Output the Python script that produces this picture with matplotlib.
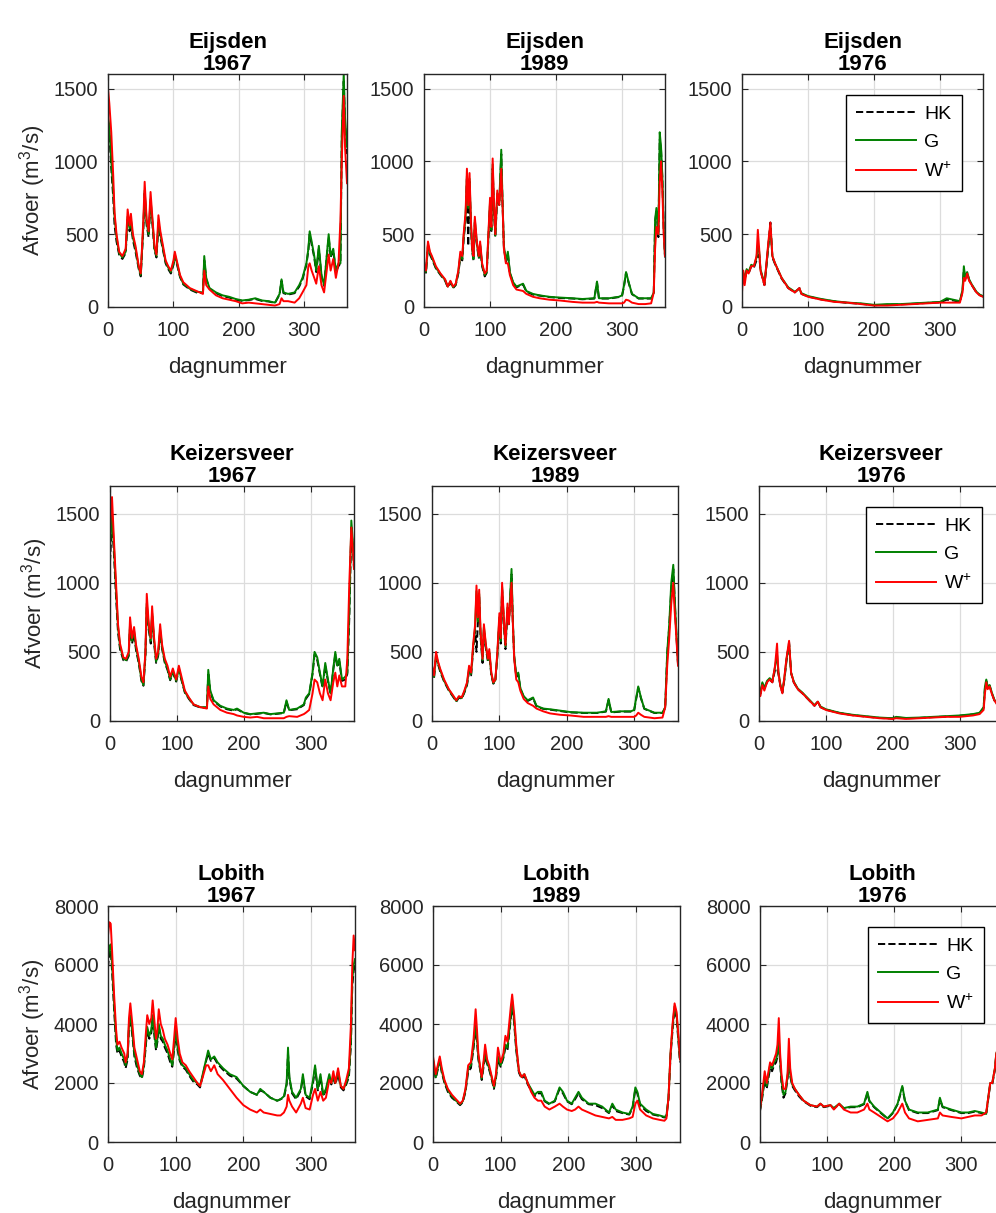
import matplotlib
matplotlib.use('Agg')
import matplotlib.pyplot as plt

plt.rcParams['font.family'] = ['Liberation Sans', 'DejaVu Sans']
plt.rcParams['mathtext.default'] = 'regular'

# ---- Eijsden 1967 ----
eij67_dag = [0, 2, 5, 8, 10, 13, 17, 22, 27, 30, 33, 35, 38, 42, 47, 50, 54, 56, 59, 62, 65, 68, 71, 74, 77,
             80, 84, 88, 92, 96, 100, 102, 106, 110, 115, 125, 135, 145, 147, 150, 155, 165, 175, 185, 195,
             205, 215, 225, 235, 245, 255, 262, 265, 268, 275, 285, 292, 297, 303, 306, 308, 311, 315, 318,
             322, 326, 330, 334, 337, 340, 344, 348, 352, 355, 357, 360, 362, 365]
eij67_hk = [1250, 1200, 950, 750, 560, 450, 360, 330, 370, 600, 520, 580, 460, 380, 260, 210, 540, 780, 560, 480,
            720, 560, 390, 340, 560, 480, 390, 300, 260, 230, 290, 350, 280, 205, 155, 120, 100, 95, 320, 190,
            125, 95, 75, 65, 50, 42, 48, 55, 42, 38, 28, 85, 180, 95, 85, 95, 140, 190, 290, 390, 500, 430, 340,
            240, 400, 210, 145, 340, 480, 340, 390, 240, 280, 300, 1150, 1550, 1250, 1050]
eij67_g = [1300, 1250, 1000, 800, 620, 480, 370, 340, 380, 620, 540, 600, 480, 400, 270, 220, 560, 800, 580, 500,
           740, 580, 400, 350, 580, 500, 400, 310, 270, 240, 300, 360, 290, 210, 160, 125, 105, 100, 350, 200,
           130, 100, 80, 70, 55, 45, 50, 60, 45, 40, 30, 90, 190, 100, 90, 100, 150, 200, 300, 400, 520, 450, 350,
           250, 420, 220, 150, 350, 500, 350, 400, 250, 300, 300, 1200, 1600, 1300, 1100]
eij67_w = [1500, 1400, 1200, 900, 650, 500, 380, 350, 400, 670, 560, 640, 500, 420, 280, 230, 600, 860, 600, 520,
           790, 600, 420, 360, 630, 520, 420, 320, 280, 250, 320, 380, 300, 220, 170, 130, 110, 90, 250, 150,
           120, 80, 60, 50, 40, 25, 30, 25, 20, 15, 10, 20, 60, 40, 40, 30, 60, 100, 150, 280, 300, 250, 200,
           160, 280, 150, 100, 250, 360, 250, 330, 200, 300, 600, 1000, 1450, 1100, 850]

# ---- Eijsden 1989 ----
eij89_dag = [0, 3, 6, 9, 12, 18, 25, 32, 36, 40, 44, 48, 52, 55, 58, 60, 63, 65, 67, 69, 71, 73, 75, 77, 80,
             83, 85, 88, 92, 95, 97, 100, 102, 104, 106, 108, 111, 114, 117, 119, 121, 124, 127, 130, 135,
             140, 150, 155, 165, 175, 190, 205, 225, 240, 258, 262, 265, 280, 295, 300, 303, 306, 310, 315,
             325, 335, 344, 348, 350, 352, 355, 357, 359, 361, 363, 365]
eij89_hk = [280, 235, 420, 360, 330, 265, 220, 180, 135, 170, 130, 150, 230, 340, 320, 460, 600, 880, 420, 860,
            560, 380, 320, 580, 430, 330, 420, 280, 210, 235, 420, 700, 510, 950, 660, 480, 760, 700, 1050, 700,
            410, 310, 370, 235, 165, 135, 155, 105, 85, 78, 68, 62, 58, 53, 58, 170, 58, 58, 68, 78, 145, 235,
            165, 88, 58, 58, 58, 95, 580, 660, 480, 1150, 1080, 880, 540, 340]
eij89_g = [290, 240, 430, 370, 340, 270, 225, 185, 140, 175, 135, 155, 240, 360, 330, 480, 620, 900, 680, 880,
           580, 390, 330, 600, 440, 340, 430, 290, 220, 240, 430, 720, 530, 980, 680, 490, 780, 720, 1080, 720,
           420, 320, 380, 240, 170, 140, 160, 110, 90, 80, 70, 65, 60, 55, 60, 175, 60, 60, 70, 80, 150, 240,
           170, 90, 60, 60, 60, 100, 600, 680, 500, 1200, 1100, 900, 550, 350]
eij89_w = [300, 250, 450, 380, 350, 280, 230, 190, 140, 180, 140, 160, 250, 380, 350, 500, 650, 950, 700, 920,
           600, 400, 350, 620, 450, 350, 450, 300, 230, 250, 450, 750, 550, 1020, 700, 500, 800, 700, 950, 700,
           400, 300, 300, 220, 150, 120, 110, 90, 70, 60, 50, 45, 35, 30, 30, 35, 30, 25, 25, 25, 30, 50,
           45, 30, 20, 20, 25, 100, 400, 550, 500, 850, 1000, 800, 500, 350]

# ---- Eijsden 1976 ----
eij76_dag = [0, 2, 4, 7, 10, 14, 18, 22, 24, 26, 28, 31, 34, 37, 40, 43, 46, 50, 55, 60, 70, 80, 87, 90, 100,
             120, 140, 160, 180, 200, 220, 240, 260, 280, 300, 310, 320, 330, 334, 336, 338, 341, 344, 348,
             355, 360, 365]
eij76_hk = [190, 230, 170, 250, 230, 280, 270, 320, 350, 360, 250, 200, 150, 280, 420, 580, 340, 295, 245, 195,
            130, 100, 130, 90, 72, 52, 38, 28, 22, 12, 15, 18, 22, 28, 32, 50, 45, 35, 110, 260, 190, 235, 185,
            150, 100, 82, 72]
eij76_g = [200, 240, 180, 260, 240, 290, 280, 340, 420, 380, 260, 210, 160, 290, 430, 560, 350, 300, 250, 200,
           135, 105, 125, 95, 75, 55, 40, 30, 25, 15, 20, 20, 25, 30, 35, 60, 50, 40, 120, 280, 200, 240, 190,
           155, 105, 85, 75]
eij76_w = [100, 250, 150, 250, 230, 280, 280, 350, 530, 400, 250, 200, 150, 300, 450, 580, 350, 300, 250, 200,
           130, 100, 130, 90, 70, 50, 35, 30, 20, 10, 10, 15, 20, 25, 30, 30, 30, 30, 100, 200, 180, 230, 180,
           150, 100, 80, 70]

# ---- Keizersveer 1967 ----
kzv67_dag = [0, 3, 6, 9, 12, 15, 20, 24, 28, 30, 33, 36, 39, 43, 47, 50, 53, 55, 58, 61, 63, 66, 69, 72, 75,
             78, 82, 86, 90, 94, 99, 103, 107, 112, 118, 125, 135, 145, 147, 150, 155, 165, 175, 185, 190,
             200, 210, 220, 230, 240, 250, 260, 264, 268, 280, 290, 293, 298, 303, 306, 310, 314, 318, 322,
             326, 330, 334, 337, 340, 343, 347, 352, 355, 358, 361, 364, 365]
kzv67_hk = [1150, 1450, 1200, 900, 640, 520, 440, 430, 470, 680, 560, 630, 510, 420, 290, 255, 470, 830, 660, 560,
            760, 560, 420, 470, 640, 520, 420, 370, 295, 350, 285, 370, 295, 205, 160, 115, 98, 95, 350, 210,
            145, 105, 85, 75, 85, 58, 48, 52, 58, 48, 52, 58, 140, 78, 85, 115, 160, 195, 340, 480, 440, 340,
            240, 400, 290, 195, 370, 480, 390, 430, 290, 300, 340, 750, 1400, 1200, 1100]
kzv67_g = [1250, 1500, 1250, 950, 680, 540, 450, 440, 480, 700, 580, 650, 530, 430, 300, 260, 480, 850, 680, 580,
           780, 580, 430, 480, 660, 530, 430, 380, 300, 360, 290, 380, 300, 210, 165, 120, 100, 100, 370, 220,
           150, 110, 90, 80, 90, 60, 50, 55, 60, 50, 55, 60, 150, 80, 90, 120, 170, 200, 350, 500, 460, 350,
           250, 420, 300, 200, 380, 500, 400, 450, 300, 320, 350, 800, 1450, 1250, 1150]
kzv67_w = [1400, 1620, 1300, 1000, 700, 560, 460, 450, 500, 750, 600, 680, 550, 450, 320, 280, 500, 920, 700, 600,
           830, 600, 450, 500, 700, 550, 450, 400, 320, 380, 300, 400, 320, 220, 170, 120, 100, 90, 250, 160,
           120, 80, 60, 50, 40, 30, 25, 30, 20, 20, 20, 20, 30, 35, 30, 50, 60, 80, 200, 300, 280, 200,
           150, 300, 200, 150, 280, 350, 250, 330, 250, 250, 450, 1000, 1400, 1200, 1100]

# ---- Keizersveer 1989 ----
kzv89_dag = [0, 3, 6, 9, 12, 18, 25, 32, 36, 40, 44, 48, 52, 55, 58, 61, 64, 66, 68, 70, 72, 75, 77, 80, 83,
             85, 88, 91, 94, 97, 100, 102, 104, 107, 109, 112, 114, 118, 120, 122, 125, 128, 131, 136, 142,
             150, 155, 165, 175, 190, 205, 225, 245, 258, 262, 266, 280, 295, 300, 303, 306, 310, 315, 330,
             342, 346, 349, 352, 355, 358, 360, 362, 365]
kzv89_hk = [380, 310, 470, 410, 360, 285, 220, 170, 140, 170, 160, 205, 260, 360, 330, 510, 660, 500, 700, 900,
            610, 420, 660, 520, 430, 490, 330, 270, 290, 470, 730, 560, 950, 670, 520, 800, 700, 1060, 700, 460,
            320, 340, 235, 175, 145, 165, 105, 88, 82, 72, 62, 58, 58, 68, 150, 62, 68, 68, 78, 160, 240, 165,
            88, 58, 58, 95, 480, 680, 950, 1100, 880, 680, 410]
kzv89_g = [390, 320, 480, 420, 370, 290, 225, 175, 145, 175, 165, 210, 270, 380, 340, 530, 680, 940, 720, 920,
           630, 440, 680, 540, 440, 500, 340, 275, 295, 480, 750, 580, 970, 690, 540, 820, 720, 1100, 720, 470,
           330, 350, 240, 180, 150, 170, 110, 90, 85, 75, 65, 60, 60, 70, 160, 65, 70, 70, 80, 170, 250, 170,
           90, 60, 60, 100, 500, 700, 1000, 1130, 900, 700, 420]
kzv89_w = [400, 330, 500, 430, 380, 300, 230, 180, 150, 180, 170, 220, 280, 400, 350, 550, 700, 980, 750, 950,
           650, 450, 700, 550, 450, 520, 350, 280, 300, 500, 780, 600, 1000, 700, 550, 850, 700, 1000, 700, 450,
           300, 280, 220, 160, 130, 110, 90, 70, 55, 45, 40, 30, 30, 30, 35, 30, 30, 30, 30, 40, 60, 45,
           30, 20, 25, 100, 400, 600, 850, 1000, 800, 650, 400]

# ---- Keizersveer 1976 ----
kzv76_dag = [0, 2, 5, 8, 12, 16, 20, 24, 27, 29, 32, 35, 38, 41, 45, 48, 52, 58, 65, 75, 83, 88, 92, 100, 120,
             140, 160, 180, 200, 205, 220, 240, 260, 280, 300, 310, 320, 330, 336, 338, 340, 342, 345, 348,
             352, 356, 360, 365]
kzv76_hk = [230, 195, 270, 235, 280, 300, 280, 370, 380, 340, 255, 205, 300, 430, 570, 345, 280, 230, 200, 150,
            110, 140, 100, 82, 58, 42, 32, 22, 18, 25, 20, 22, 28, 32, 38, 42, 48, 55, 95, 240, 290, 245, 255,
            205, 150, 120, 112, 102]
kzv76_g = [240, 200, 280, 240, 290, 310, 290, 390, 480, 360, 260, 210, 310, 440, 560, 350, 285, 235, 205, 155,
           115, 140, 105, 85, 60, 45, 35, 25, 20, 30, 22, 25, 30, 35, 40, 45, 50, 60, 100, 250, 300, 250, 260,
           210, 155, 125, 115, 105]
kzv76_w = [200, 180, 260, 220, 280, 300, 280, 400, 560, 350, 250, 200, 320, 450, 580, 350, 280, 230, 200, 150,
           110, 140, 100, 80, 55, 40, 30, 20, 15, 20, 15, 20, 25, 30, 30, 35, 40, 50, 80, 200, 280, 230, 250,
           200, 150, 120, 110, 100]

# ---- Lobith 1967 ----
lob67_dag = [0, 2, 4, 6, 9, 12, 14, 17, 20, 24, 26, 29, 31, 33, 36, 39, 43, 47, 50, 53, 56, 58, 61, 64, 66,
             69, 71, 73, 75, 78, 81, 84, 88, 92, 95, 98, 100, 103, 106, 110, 115, 120, 126, 132, 136, 140,
             145, 148, 152, 157, 162, 170, 180, 190, 200, 210, 220, 225, 230, 240, 250, 255, 260, 264, 266,
             268, 272, 278, 285, 288, 292, 298, 303, 306, 310, 314, 318, 322, 327, 330, 333, 336, 340, 344,
             348, 352, 356, 359, 361, 363, 365]
lob67_hk = [5900, 6400, 6500, 5800, 4500, 3300, 3000, 3100, 2900, 2700, 2500, 2800, 3900, 4200, 3600, 2900, 2500,
            2250, 2150, 2500, 3300, 3800, 3500, 3700, 4200, 3500, 3100, 3400, 3900, 3500, 3400, 3200, 3000, 2700,
            2550, 3200, 3700, 3100, 2750, 2550, 2450, 2250, 2050, 1950, 1850, 2250, 2750, 3000, 2750, 2850, 2650,
            2450, 2250, 2150, 1900, 1700, 1600, 1750, 1700, 1500, 1400, 1450, 1500, 1950, 3000, 2150, 1650, 1450,
            1750, 2200, 1550, 1450, 2000, 2500, 1750, 2200, 1550, 1750, 2200, 1950, 2150, 1950, 2300, 1850, 1750,
            1950, 2200, 3300, 5300, 5800, 6000]
lob67_g = [6200, 6600, 6700, 6000, 4700, 3500, 3100, 3200, 3000, 2800, 2600, 2900, 4000, 4300, 3700, 3000, 2600,
           2300, 2200, 2600, 3400, 3900, 3600, 3800, 4300, 3600, 3200, 3500, 4000, 3600, 3500, 3300, 3100, 2800,
           2600, 3300, 3800, 3200, 2800, 2600, 2500, 2300, 2100, 2000, 1900, 2300, 2800, 3100, 2800, 2900, 2700,
           2500, 2300, 2200, 1900, 1700, 1600, 1800, 1700, 1500, 1400, 1450, 1550, 2000, 3200, 2200, 1700, 1500,
           1800, 2300, 1600, 1500, 2100, 2600, 1800, 2300, 1600, 1800, 2300, 2000, 2200, 2000, 2400, 1900, 1800,
           2000, 2300, 3500, 5500, 6000, 6200]
lob67_w = [7000, 7450, 7400, 6500, 5000, 3800, 3300, 3400, 3200, 3000, 2700, 3000, 4200, 4700, 4000, 3200, 2800,
           2400, 2300, 2700, 3700, 4300, 4000, 4200, 4800, 4000, 3500, 3800, 4500, 4000, 3800, 3500, 3300, 3000,
           2800, 3600, 4200, 3500, 3000, 2700, 2600, 2400, 2200, 2000, 1900, 2200, 2600, 2600, 2400, 2600, 2300,
           2100, 1800, 1500, 1250, 1100, 1000, 1100, 1000, 950, 900, 900, 1000, 1200, 1600, 1400, 1200, 1000,
           1300, 1500, 1150, 1100, 1600, 1800, 1400, 1700, 1400, 1500, 2100, 2000, 2400, 2000, 2500, 1900, 1800,
           2100, 2500, 4000, 6000, 7000, 6500]

# ---- Lobith 1989 ----
lob89_dag = [0, 2, 4, 7, 10, 13, 17, 22, 28, 34, 40, 44, 48, 52, 56, 60, 63, 65, 67, 70, 72, 75, 77, 80, 83,
             86, 90, 93, 96, 100, 104, 107, 110, 115, 117, 120, 123, 127, 131, 135, 140, 145, 150, 155, 160,
             165, 172, 180, 187, 192, 198, 205, 210, 215, 220, 230, 240, 250, 260, 265, 270, 280, 290, 295,
             299, 302, 306, 315, 325, 335, 342, 345, 348, 351, 354, 357, 360, 363, 365]
lob89_hk = [2750, 2450, 2150, 2450, 2750, 2350, 2000, 1700, 1500, 1380, 1250, 1350, 1700, 2400, 2500, 3200, 3900,
            3400, 2800, 2400, 2100, 2600, 2900, 2650, 2450, 2200, 1800, 2150, 2800, 2550, 2850, 3200, 3100, 4200,
            4700, 4000, 3100, 2350, 2150, 2250, 1950, 1750, 1550, 1650, 1650, 1380, 1280, 1380, 1800, 1650, 1380,
            1280, 1450, 1650, 1450, 1280, 1250, 1150, 980, 1250, 1050, 980, 930, 1150, 1800, 1650, 1250, 1050,
            930, 880, 830, 880, 1450, 2900, 3800, 4500, 4200, 3300, 2700]
lob89_g = [2800, 2500, 2200, 2500, 2800, 2400, 2050, 1750, 1550, 1400, 1280, 1380, 1750, 2500, 2600, 3300, 4000,
           3500, 2900, 2450, 2150, 2700, 3000, 2700, 2500, 2250, 1850, 2200, 2900, 2600, 2900, 3300, 3200, 4300,
           4800, 4100, 3200, 2400, 2200, 2300, 2000, 1800, 1600, 1700, 1700, 1400, 1300, 1400, 1850, 1700, 1400,
           1300, 1500, 1700, 1500, 1300, 1300, 1200, 1000, 1300, 1100, 1000, 950, 1200, 1850, 1700, 1300, 1100,
           950, 900, 850, 900, 1500, 3000, 3900, 4600, 4300, 3400, 2800]
lob89_w = [2900, 2600, 2300, 2600, 2900, 2500, 2100, 1800, 1600, 1450, 1300, 1400, 1800, 2600, 2700, 3500, 4500,
           3800, 3000, 2500, 2200, 2800, 3300, 2800, 2600, 2300, 1900, 2300, 3200, 2700, 3000, 3600, 3400, 4600,
           5000, 4300, 3300, 2400, 2200, 2300, 2000, 1700, 1500, 1400, 1400, 1200, 1100, 1200, 1300, 1200, 1100,
           1050, 1100, 1200, 1100, 1000, 900, 850, 800, 850, 750, 750, 800, 850, 1300, 1400, 1100, 900,
           800, 750, 720, 800, 1500, 3000, 4000, 4700, 4400, 3500, 2800]

# ---- Lobith 1976 ----
lob76_dag = [0, 3, 7, 10, 12, 15, 18, 21, 24, 26, 28, 30, 32, 35, 38, 41, 43, 45, 48, 52, 58, 65, 75, 85, 90,
             95, 105, 110, 118, 125, 135, 145, 155, 160, 163, 170, 180, 190, 198, 205, 212, 216, 222, 235, 250,
             265, 268, 272, 285, 300, 310, 320, 330, 337, 340, 343, 346, 350, 352, 355, 365]
lob76_hk = [1050, 1450, 2100, 1800, 2100, 2500, 2400, 2600, 2700, 2900, 3300, 2700, 2000, 1500, 1650, 2150, 2700,
            2250, 1900, 1750, 1550, 1380, 1230, 1180, 1280, 1180, 1230, 1130, 1280, 1130, 1180, 1180, 1280, 1650,
            1380, 1180, 980, 790, 980, 1280, 1850, 1380, 1080, 980, 980, 1080, 1450, 1180, 1080, 980, 980, 1030,
            980, 930, 1450, 1950, 1950, 2450, 2950, 3150, 2950]
lob76_g = [1100, 1500, 2200, 1900, 2200, 2600, 2500, 2700, 2800, 3000, 3500, 2800, 2100, 1600, 1700, 2200, 2800,
           2300, 1950, 1800, 1600, 1400, 1250, 1200, 1300, 1200, 1250, 1150, 1300, 1150, 1200, 1200, 1300, 1700,
           1400, 1200, 1000, 800, 1000, 1300, 1900, 1400, 1100, 1000, 1000, 1100, 1500, 1200, 1100, 1000, 1000,
           1050, 1000, 950, 1500, 2000, 2000, 2500, 3000, 3200, 3000]
lob76_w = [1100, 1600, 2400, 2000, 2300, 2700, 2600, 2800, 3000, 3300, 4200, 3000, 2300, 1800, 1800, 2300, 3500,
           2500, 2000, 1800, 1600, 1400, 1250, 1200, 1300, 1200, 1250, 1100, 1300, 1100, 1000, 1000, 1100, 1300,
           1100, 1000, 850, 700, 800, 1000, 1300, 1000, 800, 700, 750, 800, 1000, 900, 850, 800, 850, 900,
           900, 1000, 1500, 2000, 2000, 2500, 3000, 3200, 3000]

stations = ['Eijsden', 'Keizersveer', 'Lobith']
years = ['1967', '1989', '1976']
series = [
    [(eij67_dag, eij67_hk, eij67_g, eij67_w), (eij89_dag, eij89_hk, eij89_g, eij89_w),
     (eij76_dag, eij76_hk, eij76_g, eij76_w)],
    [(kzv67_dag, kzv67_hk, kzv67_g, kzv67_w), (kzv89_dag, kzv89_hk, kzv89_g, kzv89_w),
     (kzv76_dag, kzv76_hk, kzv76_g, kzv76_w)],
    [(lob67_dag, lob67_hk, lob67_g, lob67_w), (lob89_dag, lob89_hk, lob89_g, lob89_w),
     (lob76_dag, lob76_hk, lob76_g, lob76_w)],
]
ymax = [1600, 1700, 8000]
yticks = [[0, 500, 1000, 1500], [0, 500, 1000, 1500], [0, 2000, 4000, 6000, 8000]]

# axes boxes in pixels: (left, right) per column, (top, bottom) per row
W, H = 996, 1213
cols = [[(108, 347), (424, 665), (742, 983)],
        [(110, 354), (432, 678), (759, 1003)],
        [(108, 355), (433, 680), (760, 1005)]]
rows = [(74, 307), (486, 721), (906, 1142)]

dark = '#262626'
fig = plt.figure(figsize=(W / 100, H / 100), dpi=100)

for r in range(3):
    top, bot = rows[r]
    for c in range(3):
        left, right = cols[r][c]
        ax = fig.add_axes([left / W, 1 - bot / H, (right - left) / W, (bot - top) / H])
        dag, hk, g, w = series[r][c]
        ax.plot(dag, hk, '--', color='k', lw=1.4, label='HK')
        ax.plot(dag, g, '-', color=(0, 0.5, 0), lw=1.4, label='G')
        ax.plot(dag, w, '-', color='r', lw=1.4, label='W$^{+}$')

        ax.set_xlim(0, 365)
        ax.set_ylim(0, ymax[r])
        ax.set_xticks([0, 100, 200, 300])
        ax.set_yticks(yticks[r])
        ax.grid(True, color='#dcdcdc', lw=0.9)
        ax.set_axisbelow(True)
        ax.tick_params(direction='in', length=4, top=True, right=True, labelsize=14.5,
                       colors=dark, pad=7)
        ax.tick_params(axis='x', pad=10)
        for sp in ax.spines.values():
            sp.set_color(dark)
            sp.set_linewidth(1.0)

        ax.set_title(f'{stations[r]}\n{years[c]}', fontsize=16, fontweight='bold',
                     pad=3, linespacing=1.05, color='k')
        ax.set_xlabel('dagnummer', fontsize=16, color=dark, labelpad=12)
        if c == 0:
            ax.set_ylabel('Afvoer (m$^3$/s)', fontsize=16, color=dark, labelpad=4)
        if c == 2:
            leg = ax.legend(loc='upper right', fontsize=14, fancybox=False, framealpha=1,
                            edgecolor='k', handlelength=3.1, handletextpad=0.4,
                            labelspacing=0.55, borderaxespad=1.1, borderpad=0.5)
            leg.get_frame().set_linewidth(1.0)

fig.savefig('out.png', dpi=100)
